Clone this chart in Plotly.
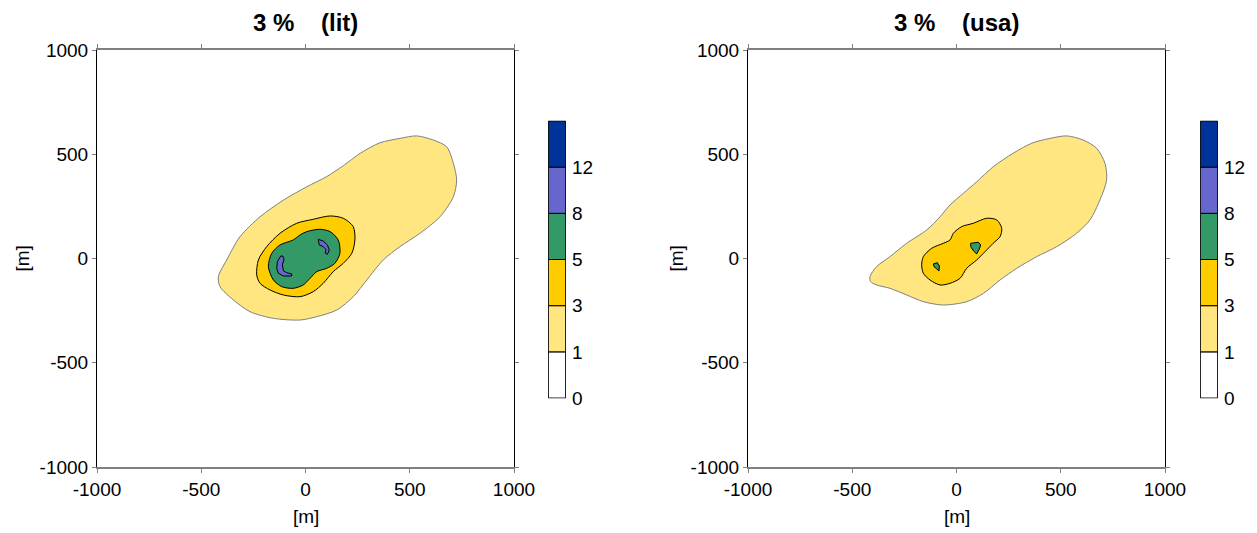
import plotly.graph_objects as go

# ---------------- data ----------------
levels = [0, 1, 3, 5, 8, 12]
level_labels = ["0", "1", "3", "5", "8", "12"]
level_colors = ["#FFFFFF", "#FFE680", "#FFCC00", "#339966", "#6666CC", "#003399"]

titles = ["3 %\u00a0\u00a0\u00a0\u00a0(lit)", "3 %\u00a0\u00a0\u00a0\u00a0(usa)"]
ticks = [-1000, -500, 0, 500, 1000]

# left panel (lit) contour outlines [m]
lit_1_x = [-418, -378, -314, -218, -106, 6, 102, 181, 263, 357, 453, 533, 613, 677, 709, 725, 709, 645, 549, 453, 373, 294, 229, 150, 54, -26, -154, -266, -346, -410]
lit_1_y = [-87, -7, 105, 200, 280, 344, 393, 445, 505, 555, 576, 588, 568, 536, 457, 376, 296, 200, 121, 57, -7, -103, -183, -247, -279, -295, -287, -255, -199, -135]
lit_3_x = [-234, -226, -186, -122, -42, 37, 118, 181, 229, 237, 222, 181, 133, 85, 37, -26, -106, -170, -218]
lit_3_y = [-79, -7, 57, 121, 169, 188, 204, 193, 153, 89, 25, -23, -63, -119, -159, -183, -175, -151, -119]
lit_5_x = [-178, -162, -122, -59, -26, 6, 70, 118, 157, 165, 141, 102, 54, 22, -11, -59, -114, -154]
lit_5_y = [-39, 25, 65, 89, 113, 129, 140, 129, 89, 25, -23, -47, -63, -95, -127, -143, -135, -103]
lit_8a_x = [-119, -135, -138, -130, -106, -66, -66, -90, -106, -111, -103, -109]
lit_8a_y = [12, -15, -47, -71, -84, -84, -74, -68, -59, -31, -4, 12]
lit_8b_x = [61, 85, 105, 114, 105, 95, 98, 85, 66]
lit_8b_y = [92, 84, 65, 41, 20, 25, 44, 57, 65]

# right panel (usa) contour outlines [m]
usa_1_x = [-415, -383, -319, -239, -143, -79, -31, 33, 97, 176, 272, 361, 448, 529, 608, 672, 712, 720, 688, 640, 576, 481, 385, 289, 209, 129, 49, -63, -159, -239, -319, -383, -412]
usa_1_y = [-87, -39, 9, 73, 137, 200, 257, 313, 368, 440, 505, 553, 576, 588, 568, 529, 457, 376, 281, 185, 121, 57, 9, -47, -103, -167, -207, -223, -207, -175, -143, -127, -111]
usa_3_x = [-167, -159, -119, -63, -31, -15, 25, 81, 145, 193, 217, 209, 176, 137, 97, 49, 17, -31, -79, -127, -159]
usa_3_y = [-31, 9, 49, 73, 89, 121, 153, 169, 193, 185, 145, 105, 73, 33, -7, -47, -95, -119, -127, -103, -71]
usa_5a_x = [68, 105, 116, 109, 97, 81, 68]
usa_5a_y = [73, 78, 65, 44, 22, 37, 57]
usa_5b_x = [-111, -92, -82, -84, -98, -108]
usa_5b_y = [-26, -20, -36, -60, -47, -39]

panels = [
    [(lit_1_x, lit_1_y, 1, "spline"), (lit_3_x, lit_3_y, 2, "spline"), (lit_5_x, lit_5_y, 3, "spline"),
     (lit_8a_x, lit_8a_y, 4, "linear"), (lit_8b_x, lit_8b_y, 4, "linear")],
    [(usa_1_x, usa_1_y, 1, "spline"), (usa_3_x, usa_3_y, 2, "spline"),
     (usa_5a_x, usa_5a_y, 3, "linear"), (usa_5b_x, usa_5b_y, 3, "linear")],
]

# ---------------- figure ----------------
W, H = 1257, 533
FONT = "Liberation Sans, Arial, sans-serif"
fig = go.Figure()

main_x_dom = [[97 / W, 514 / W], [748 / W, 1165 / W]]
main_y_dom = [(H - 467) / H, (H - 50) / H]
cb_x_dom = [[548 / W, 566 / W], [1200 / W, 1218 / W]]
cb_y_dom = [(H - 398.5) / H, (H - 120.5) / H]

for p, polys in enumerate(panels):
    xa = "x" if p == 0 else "x2"
    ya = "y" if p == 0 else "y2"
    for xs, ys, ci, shp in polys:
        line = dict(color="#808080" if ci == 1 else "#000000", width=1, shape=shp)
        if shp == "spline":
            line["smoothing"] = 0.8
        fig.add_trace(go.Scatter(
            x=xs + [xs[0]], y=ys + [ys[0]], mode="lines", fill="toself",
            fillcolor=level_colors[ci], line=line,
            xaxis=xa, yaxis=ya, hoverinfo="skip", showlegend=False))

    # colour bar drawn as stacked bars
    cxa = "x3" if p == 0 else "x4"
    cya = "y3" if p == 0 else "y4"
    for i, col in enumerate(level_colors):
        fig.add_trace(go.Bar(
            x=[0], y=[1], base=[i], width=1, marker=dict(color=col, line=dict(color="#000000", width=1)),
            xaxis=cxa, yaxis=cya, hoverinfo="skip", showlegend=False))

axis_font = dict(family=FONT, size=19, color="#000000")
for p in range(2):
    xs = "xaxis" if p == 0 else "xaxis2"
    ys = "yaxis" if p == 0 else "yaxis2"
    fig.layout[xs] = dict(
        domain=main_x_dom[p], range=[-1000, 1000], anchor="y" if p == 0 else "y2",
        tickvals=ticks, ticktext=[str(t) for t in ticks], showline=True, linecolor="#808080", linewidth=2,
        mirror="ticks", ticks="outside", ticklen=4, tickcolor="#808080", tickwidth=1,
        showgrid=False, zeroline=False, tickfont=axis_font, automargin=False)
    fig.layout[ys] = dict(
        domain=main_y_dom, range=[-1000, 1000], anchor="x" if p == 0 else "x2",
        tickvals=ticks, ticktext=[str(t) for t in ticks], showline=True, linecolor="#000000", linewidth=1,
        mirror="ticks", ticks="outside", ticklen=4, tickcolor="#808080", tickwidth=1,
        showgrid=False, zeroline=False, tickfont=axis_font, automargin=False)
    cxs = "xaxis3" if p == 0 else "xaxis4"
    cys = "yaxis3" if p == 0 else "yaxis4"
    fig.layout[cxs] = dict(domain=cb_x_dom[p], range=[-0.52, 0.52], visible=False,
                           anchor="y3" if p == 0 else "y4", fixedrange=True, automargin=False)
    fig.layout[cys] = dict(domain=cb_y_dom, range=[-0.01, 6.01], side="right",
                           anchor="x3" if p == 0 else "x4",
                           tickvals=list(range(len(levels))), ticktext=level_labels,
                           showline=False, showgrid=False, zeroline=False, ticks="",
                           ticklabelstandoff=5,
                           tickfont=axis_font, fixedrange=True, automargin=False)

annotations = []
centers = [305.5, 956.5]
for p in range(2):
    annotations.append(dict(text="<b>" + titles[p] + "</b>", x=centers[p] / W, y=(H - 23) / H,
                            xref="paper", yref="paper", xanchor="center", yanchor="middle",
                            showarrow=False, font=dict(family=FONT, size=24, color="#000000")))
    annotations.append(dict(text="[m]", x=centers[p] / W, y=(H - 516) / H,
                            xref="paper", yref="paper", xanchor="center", yanchor="middle",
                            showarrow=False, font=axis_font))
    annotations.append(dict(text="[m]", x=(22 if p == 0 else 676) / W, y=(H - 258.5) / H,
                            xref="paper", yref="paper", xanchor="center", yanchor="middle",
                            textangle=-90, showarrow=False, font=axis_font))

fig.update_layout(width=W, height=H, margin=dict(l=0, r=0, t=0, b=0, autoexpand=False),
                  paper_bgcolor="white", plot_bgcolor="white", barmode="overlay",
                  font=dict(family=FONT, size=19, color="#000000"),
                  annotations=annotations, showlegend=False)

fig.write_html("out.html")
